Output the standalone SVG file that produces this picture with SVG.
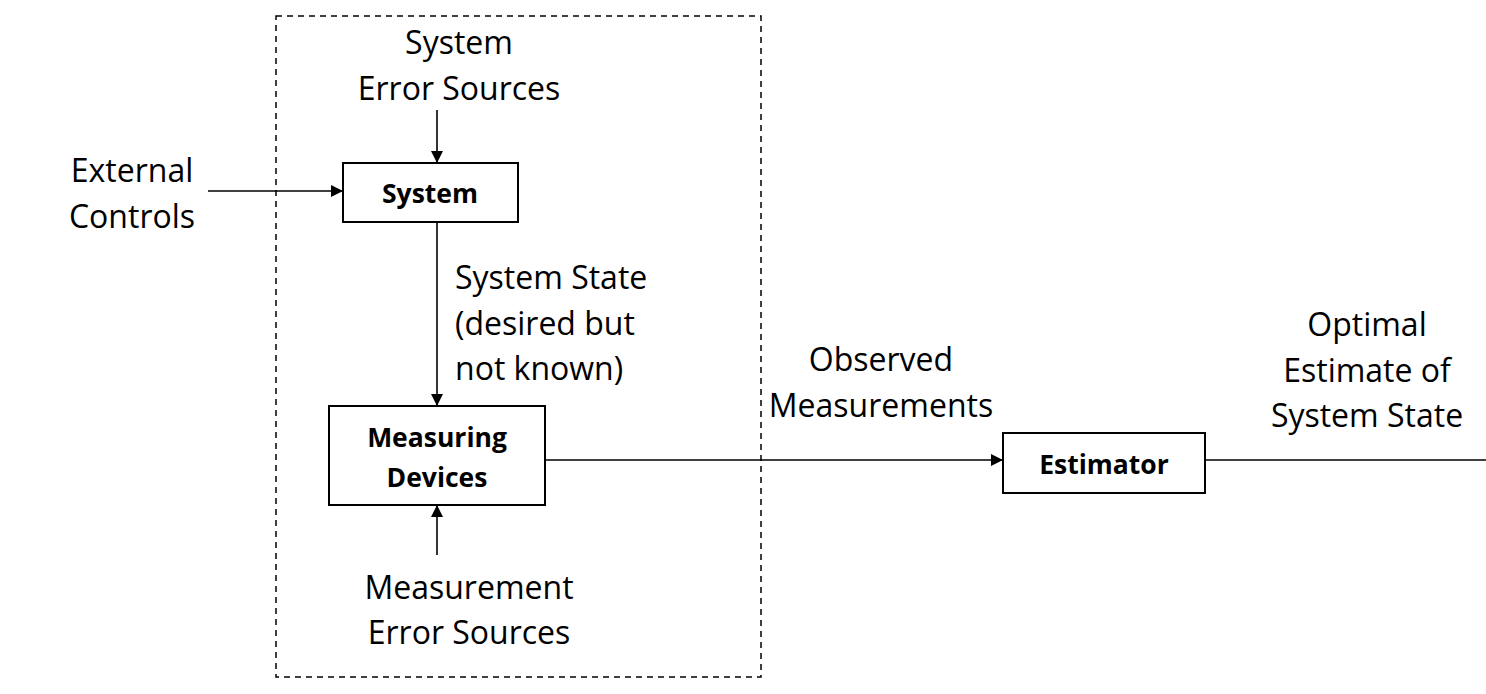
<svg xmlns="http://www.w3.org/2000/svg" width="1486" height="694" viewBox="0 0 1486 694">
<defs>
<marker id="arr" markerWidth="12" markerHeight="12" refX="11" refY="6" orient="auto" markerUnits="userSpaceOnUse">
<path d="M0,0 L12,6 L0,12 z" fill="#000"/>
</marker>
<style>
.lbl{font-family:"Open Sans","Liberation Sans",sans-serif;font-size:32px;fill:#000}
.nd{font-family:"Open Sans","Liberation Sans",sans-serif;font-size:26.5px;font-weight:bold;fill:#000}
.box{fill:#fff;stroke:#000;stroke-width:2}
.ln{stroke:#000;stroke-width:1.6;fill:none}
</style>
</defs>
<rect width="1486" height="694" fill="#fff"/>
<rect id="boundary" x="276" y="16" width="485" height="661" fill="none" stroke="#000" stroke-width="1.5" stroke-dasharray="6,5"/>
<g id="connectors">
<line class="ln" x1="437" y1="110" x2="437" y2="162" marker-end="url(#arr)"/>
<line class="ln" x1="208" y1="191" x2="342" y2="191" marker-end="url(#arr)"/>
<line class="ln" x1="437" y1="222" x2="437" y2="405" marker-end="url(#arr)"/>
<line class="ln" x1="437" y1="555" x2="437" y2="506" marker-end="url(#arr)"/>
<line class="ln" x1="545" y1="460" x2="1002" y2="460" marker-end="url(#arr)"/>
<line class="ln" x1="1205" y1="460" x2="1486" y2="460"/>
</g>
<g id="system">
<rect class="box" x="343" y="163" width="175" height="59"/>
<text class="nd" x="430" y="203" text-anchor="middle">System</text>
</g>
<g id="measuring">
<rect class="box" x="329" y="406" width="216" height="99"/>
<text class="nd" x="437" y="447" text-anchor="middle">Measuring</text>
<text class="nd" x="437" y="487" text-anchor="middle">Devices</text>
</g>
<g id="estimator">
<rect class="box" x="1003" y="433" width="202" height="60"/>
<text class="nd" x="1104" y="474" text-anchor="middle">Estimator</text>
</g>
<g id="labels">
<text class="lbl" x="459" y="54" text-anchor="middle">System</text>
<text class="lbl" x="459" y="100" text-anchor="middle">Error Sources</text>
<text class="lbl" x="132" y="182" text-anchor="middle">External</text>
<text class="lbl" x="132" y="228" text-anchor="middle">Controls</text>
<text class="lbl" x="455" y="289">System State</text>
<text class="lbl" x="455" y="335">(desired but</text>
<text class="lbl" x="455" y="380">not known)</text>
<text class="lbl" x="881" y="371" text-anchor="middle">Observed</text>
<text class="lbl" x="881" y="417" text-anchor="middle">Measurements</text>
<text class="lbl" x="1367" y="336" text-anchor="middle">Optimal</text>
<text class="lbl" x="1367" y="382" text-anchor="middle">Estimate of</text>
<text class="lbl" x="1367" y="427" text-anchor="middle">System State</text>
<text class="lbl" x="469" y="599" text-anchor="middle">Measurement</text>
<text class="lbl" x="469" y="644" text-anchor="middle">Error Sources</text>
</g>
</svg>
